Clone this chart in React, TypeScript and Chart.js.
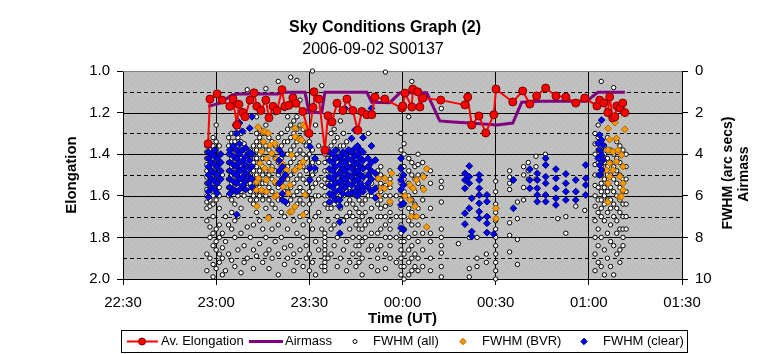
import React, { useEffect, useRef } from 'react';
import { Chart, registerables } from 'chart.js';

Chart.register(...registerables);

const FONT = 'Liberation Sans, Arial, sans-serif';

const chartTitle = 'Sky Conditions Graph (2)';
const chartSubtitle = '2006-09-02 S00137';
const xAxisTitle = 'Time (UT)';
const leftAxisTitle = 'Elongation';
const rightAxisTitles = ['FWHM (arc secs)', 'Airmass'];
const seriesNames = ['Av. Elongation', 'Airmass', 'FWHM (all)', 'FWHM (BVR)', 'FWHM (clear)'];

// x values are minutes after 22:30 UT
const timeLabels = ['22:30', '23:00', '23:30', '00:00', '00:30', '01:00', '01:30'];

const elongTimes = [27.4, 28.0, 30.3, 31.9, 34.4, 35.4, 36.7, 37.3, 38.6, 39.3, 40.9, 42.2, 43.1, 44.4, 46.0, 47.0, 48.3, 49.6, 51.2, 52.1, 53.4, 54.7, 55.7, 57.9, 59.9, 61.2, 61.5, 63.1, 65.0, 66.0, 67.3, 68.9, 70.8, 72.1, 74.0, 75.6, 76.9, 78.5, 80.1, 81.1, 84.3, 89.8, 90.1, 90.8, 93.0, 93.3, 94.9, 95.6, 96.6, 102.3, 110.1, 111.0, 112.3, 114.6, 116.8, 119.4, 120.1, 125.5, 128.7, 131.0, 133.2, 136.1, 139.4, 142.6, 145.8, 148.7, 152.6, 153.5, 154.8, 156.1, 156.7, 157.7, 158.4, 159.0, 160.0, 160.9, 161.6];
const elongValues = [1.35, 1.135, 1.11, 1.14, 1.17, 1.135, 1.26, 1.16, 1.2, 1.22, 1.14, 1.105, 1.17, 1.19, 1.14, 1.225, 1.17, 1.19, 1.09, 1.17, 1.165, 1.13, 1.155, 1.195, 1.3, 1.175, 1.1, 1.135, 1.38, 1.215, 1.245, 1.155, 1.19, 1.135, 1.19, 1.285, 1.195, 1.21, 1.21, 1.125, 1.135, 1.178, 1.168, 1.106, 1.173, 1.087, 1.1, 1.173, 1.13, 1.14, 1.163, 1.125, 1.26, 1.216, 1.298, 1.21, 1.087, 1.149, 1.096, 1.159, 1.12, 1.082, 1.12, 1.125, 1.154, 1.13, 1.168, 1.14, 1.154, 1.2, 1.125, 1.226, 1.22, 1.168, 1.178, 1.154, 1.2];

const airTimes = [27.4, 31.2, 35.1, 37.7, 49.9, 51.2, 58.6, 59.9, 64.0, 65.0, 78.5, 80.1, 85.9, 89.2, 97.8, 102.0, 106.2, 111.7, 120.4, 125.5, 128.4, 134.2, 149.3, 152.9, 161.6];
const airValues = [1.7, 1.55, 1.15, 1.1, 1.1, 1.02, 1.02, 2.0, 2.0, 1.02, 1.02, 1.5, 1.52, 1.05, 1.05, 2.4, 2.45, 2.5, 2.6, 2.5, 1.5, 1.45, 1.45, 1.02, 1.02];

// [minute, FWHM values at that minute]
const fwhmAll: [number, number[]][] = [
  [27, [3.6, 3.9, 4.2, 4.5, 4.8, 5.1, 5.4, 5.7, 6.0, 6.3, 6.6, 7.2, 8.8, 9.6]],
  [28, [3.5, 3.8, 4.1, 4.4, 4.7, 5.0, 5.3, 5.6, 5.9, 6.2, 6.5, 7.5, 8.0, 9.0]],
  [29, [3.2, 3.6, 4.0, 4.4, 4.8, 5.2, 5.6, 6.0, 6.4, 7.0, 7.8, 8.4, 9.3, 9.9]],
  [30, [2.6, 3.4, 3.8, 4.2, 4.6, 5.0, 5.4, 5.8, 6.2, 7.6, 8.2, 8.6, 9.5]],
  [31, [3.6, 4.0, 4.4, 4.8, 5.2, 5.6, 6.0, 6.6, 7.4, 8.0, 8.8, 9.2]],
  [32, [5.0, 7.8, 8.5, 9.0, 9.8]],
  [33, [7.0, 8.2, 9.6]],
  [34, [3.2, 3.6, 4.0, 4.4, 4.8, 5.2, 5.6, 6.0, 7.4, 8.8]],
  [35, [3.0, 3.4, 3.8, 4.2, 4.6, 5.0, 5.4, 5.8, 6.2, 6.8, 7.6, 9.1]],
  [36, [2.6, 3.0, 3.4, 3.8, 4.2, 4.6, 5.0, 5.4, 5.8, 6.4, 7.2, 8.0, 9.4]],
  [37, [2.4, 2.8, 3.2, 3.6, 4.0, 4.4, 4.8, 5.2, 5.6, 6.0, 7.0, 8.6]],
  [38, [3.0, 3.4, 3.8, 4.2, 4.6, 5.0, 5.4, 5.8, 6.6, 7.8, 9.7]],
  [39, [3.5, 4.0, 4.5, 5.0, 5.5, 6.0, 8.4, 9.2]],
  [40, [0.9, 4.8, 5.6, 7.5, 9.0]],
  [41, [3.8, 4.2, 4.6, 5.0, 5.4, 5.8, 6.2, 8.0]],
  [42, [3.6, 4.0, 4.4, 4.8, 5.2, 5.6, 6.0, 6.4, 7.4, 8.6, 9.5]],
  [43, [2.2, 3.0, 3.4, 3.8, 4.2, 4.6, 5.0, 5.4, 5.8, 6.2, 6.8, 8.9]],
  [44, [2.8, 3.2, 3.6, 4.0, 4.4, 4.8, 5.2, 5.6, 6.0, 7.2, 8.3]],
  [45, [3.0, 3.4, 3.8, 4.2, 4.6, 5.0, 5.4, 5.8, 6.2, 7.6, 9.2]],
  [46, [0.85, 2.6, 3.0, 3.6, 4.2, 4.8, 5.4, 6.0, 6.6, 8.0, 8.8]],
  [47, [3.2, 3.8, 4.4, 5.0, 5.6, 6.2, 7.0, 8.6, 9.5]],
  [48, [3.4, 4.0, 4.6, 5.2, 5.8, 6.4, 7.6, 9.0]],
  [49, [2.0, 3.6, 4.2, 4.8, 5.4, 6.0, 6.6, 8.2]],
  [50, [0.5, 3.2, 3.8, 4.4, 5.0, 5.6, 6.2, 7.4, 8.8, 9.8]],
  [51, [3.0, 3.6, 4.2, 4.8, 5.4, 6.0, 6.8, 8.0]],
  [52, [1.8, 3.4, 4.0, 4.6, 5.2, 5.8, 7.0, 8.5, 9.3]],
  [53, [2.2, 2.8, 3.4, 4.0, 4.6, 5.2, 5.8, 6.4, 7.6, 9.0]],
  [54, [0.3, 2.6, 3.2, 3.8, 4.4, 5.0, 5.6, 6.2, 6.8, 8.4]],
  [55, [1.2, 2.4, 3.0, 3.6, 4.2, 4.8, 5.4, 6.0, 7.2, 8.8, 9.6]],
  [56, [0.45, 2.2, 2.8, 3.4, 4.0, 4.6, 5.2, 5.8, 6.4, 7.8, 9.2]],
  [57, [1.4, 2.6, 3.2, 3.8, 4.4, 5.0, 5.6, 6.2, 7.0, 8.6]],
  [58, [2.8, 3.4, 4.0, 4.6, 5.2, 5.8, 6.4, 7.4, 8.0, 9.4]],
  [59, [3.0, 3.6, 4.2, 4.8, 5.4, 6.0, 6.8, 8.4, 9.0]],
  [60, [3.4, 4.0, 4.6, 5.2, 5.8, 6.4, 7.2, 8.8, 9.6]],
  [61, [0.0, 3.8, 4.4, 5.0, 5.6, 6.2, 7.6, 9.2]],
  [62, [2.6, 4.2, 4.8, 5.4, 6.0, 7.0, 8.2, 9.8]],
  [63, [3.6, 4.4, 5.2, 6.0, 6.8, 8.6]],
  [64, [0.7, 5.5, 7.6, 9.4]],
  [65, [4.0, 4.4, 4.8, 5.2, 5.6, 6.0, 6.4, 7.8, 8.0, 8.2, 8.4, 8.6, 8.8, 9.0, 9.2, 9.4, 9.6]],
  [66, [4.2, 4.8, 5.4, 6.0, 6.6, 7.2, 9.0]],
  [67, [3.0, 3.6, 4.2, 4.8, 5.4, 6.0, 6.6, 7.6, 8.8]],
  [68, [2.8, 3.4, 4.0, 4.6, 5.2, 5.8, 6.4, 7.4, 8.4]],
  [69, [3.2, 3.8, 4.4, 5.0, 5.6, 6.2, 7.0, 8.0, 9.4]],
  [70, [2.4, 3.6, 4.2, 4.8, 5.4, 6.0, 6.6, 7.8, 9.0]],
  [71, [3.0, 3.6, 4.2, 4.8, 5.4, 6.0, 7.2, 8.6]],
  [72, [3.4, 4.0, 4.6, 5.2, 5.8, 6.4, 7.0, 8.2, 9.6]],
  [73, [3.8, 4.4, 5.0, 5.6, 6.2, 6.8, 7.6, 9.2]],
  [74, [4.0, 4.6, 5.2, 5.8, 6.4, 7.0, 8.0, 8.8]],
  [75, [4.2, 4.8, 5.4, 6.0, 6.6, 7.4, 8.4, 9.4]],
  [76, [4.4, 5.0, 5.6, 6.2, 6.8, 7.2, 7.6, 8.0, 8.4, 8.8, 9.2]],
  [77, [4.6, 5.2, 5.8, 6.4, 7.0, 7.6, 8.2, 9.0, 9.8]],
  [78, [5.0, 5.6, 6.2, 6.8, 7.4, 8.0]],
  [79, [3.0, 5.4, 6.0, 7.2, 8.6]],
  [80, [4.8, 5.4, 6.0, 6.6, 7.2, 7.8, 8.4, 9.4]],
  [82, [4.8, 5.2, 5.6, 6.0, 6.4, 7.0, 7.8, 8.6, 9.0, 9.6]],
  [83, [4.6, 5.0, 5.4, 5.8, 6.2, 6.6, 7.0, 7.6, 8.4]],
  [84.5, [0.05, 5.5, 6.0, 6.5, 7.0, 7.4, 8.0, 8.8, 9.5]],
  [86, [4.8, 5.2, 5.6, 6.0, 6.4, 6.8, 7.2, 7.6, 8.0, 8.4, 9.0]],
  [88, [6.0, 7.0, 8.0, 9.2]],
  [89.5, [3.0, 3.8, 4.2, 4.6, 5.0, 5.4, 5.8, 6.2, 6.6, 7.0, 7.4, 7.8, 8.2, 8.6, 9.0, 9.4, 9.8]],
  [90.5, [3.5, 4.0, 4.6, 5.2, 5.8, 6.4, 7.0, 7.6, 8.2, 8.8, 9.4, 10.0]],
  [92, [2.2, 4.2, 4.8, 5.4, 6.0, 6.6, 7.2, 8.0, 8.6, 9.2, 9.8]],
  [93, [0.5, 4.4, 5.0, 5.6, 6.2, 6.8, 7.4, 8.4, 9.0, 9.6]],
  [94, [4.6, 5.2, 5.8, 6.4, 7.0, 7.8, 8.8, 9.4]],
  [95, [4.0, 4.5, 5.0, 5.4, 6.6, 7.4, 8.2, 9.0, 9.6]],
  [96.5, [4.4, 5.0, 5.6, 6.2, 7.0, 7.8, 8.6, 9.4]],
  [99, [4.8, 5.4, 6.6, 7.8, 8.2, 9.0, 9.6]],
  [102.5, [1.8, 5.3, 5.6, 6.3, 7.6, 8.0, 8.4, 8.75, 9.4, 9.9]],
  [108, [8.3]],
  [111.5, [8.0, 9.5, 9.9]],
  [114, [8.0, 9.0, 9.4]],
  [117, [8.8, 9.2]],
  [120, [5.3, 5.8, 6.4, 6.8, 7.2, 7.6, 8.0, 8.4, 8.8, 9.2, 9.6, 10.0]],
  [124.5, [4.8, 5.1, 5.4, 5.7, 7.3, 7.9, 8.7]],
  [127, [6.3, 7.1, 8.1, 9.3]],
  [129, [4.6, 5.0, 5.6, 6.2]],
  [130.5, [4.4, 4.8, 5.2]],
  [133, [4.1, 4.6, 5.2]],
  [136, [4.0, 4.2]],
  [140, [7.1]],
  [142.6, [7.0, 7.8]],
  [145.8, [6.5]],
  [148.7, [6.7]],
  [152, [3.0, 3.5, 4.0, 4.5, 5.0, 5.5, 6.0, 6.5, 7.2, 8.0, 8.8, 9.6]],
  [153, [2.6, 3.2, 3.8, 4.4, 5.0, 5.6, 6.2, 6.8, 7.6, 8.4, 9.2]],
  [154, [0.5, 3.4, 3.8, 4.2, 4.6, 5.0, 5.4, 5.8, 6.2, 6.6, 7.0, 8.0, 9.4]],
  [155, [3.6, 4.0, 4.4, 4.8, 5.2, 5.6, 6.0, 6.4, 7.2, 8.6, 9.8]],
  [156, [3.2, 4.2, 4.6, 5.0, 5.4, 5.8, 6.2, 6.8, 7.8, 9.0]],
  [157, [3.8, 4.4, 5.0, 5.6, 6.2, 6.6, 7.4, 8.2, 9.4]],
  [158, [0.8, 4.0, 4.6, 5.2, 5.8, 6.4, 7.0, 8.4, 9.8]],
  [159, [3.4, 4.2, 4.8, 5.4, 6.0, 6.6, 7.2, 7.8, 8.8]],
  [160, [3.6, 4.4, 5.0, 5.6, 6.2, 6.8, 7.6, 8.6, 9.2]],
  [161, [3.8, 4.6, 5.2, 5.8, 6.4, 7.0, 7.6, 8.0, 8.4]],
  [162, [4.0, 4.6, 5.2, 5.8, 6.4, 7.0, 7.6]],
];

const fwhmBVR: [number, number[]][] = [
  [43.0, [5.32, 5.72]], [43.1, [6.5]], [43.5, [2.7]], [43.6, [5.16]], [44.1, [4.44]], [44.6, [3.88, 5.72]],
  [45.0, [2.9]], [45.2, [3.4]], [45.7, [2.92, 4.68]], [46.2, [4.2, 5.24, 5.8]], [46.8, [3.0, 7.08]],
  [47.3, [3.56]], [47.9, [3.96, 4.76]], [48.9, [3.48, 5.32, 6.04]], [49.5, [4.25]], [49.6, [5.96]],
  [50.0, [3.8]], [51.1, [4.44]], [51.6, [5.56]], [52.1, [5.11]], [52.7, [4.76]], [53.2, [5.88]],
  [53.7, [6.78]], [53.8, [5.48]], [54.3, [4.04, 6.76]], [55.4, [2.75, 3.16, 4.76, 6.52]], [56.8, [3.3]],
  [57.0, [4.6]], [57.5, [3.32]], [58.0, [2.6, 4.36, 6.92]], [58.6, [2.68, 5.96]],
  [82.2, [5.16, 6.04]], [82.7, [5.64]], [84.3, [5.16, 5.64]], [85.9, [5.4, 6.28]], [86.5, [4.92]],
  [90.8, [6.0]], [92.4, [5.48, 6.2]], [92.9, [7.0]], [93.4, [5.64]], [94.0, [6.52]], [94.5, [5.24, 7.0]],
  [96.8, [5.1, 5.7]], [97.8, [4.7, 7.5]], [120.1, [6.6, 7.1]],
  [154.6, [4.28]], [155.7, [4.76]], [156.1, [6.3]], [156.2, [2.76, 3.8, 5.4]], [156.7, [3.3, 4.44, 5.08]],
  [157.8, [3.88, 4.76]], [158.4, [2.48]], [158.9, [3.24, 4.36]], [159.4, [3.8]], [160.0, [5.08, 6.06]],
  [160.5, [4.04, 6.04]], [161.0, [4.6, 5.4, 5.72]], [161.6, [2.8]],
];

const fwhmClear: [number, number[]][] = [
  [27.5, [3.9, 4.2, 4.6, 5.0, 5.4, 5.8, 6.06]],
  [28.5, [4.0, 4.4, 4.8, 5.2, 5.6]],
  [29.5, [3.8, 4.1, 4.5, 4.9, 5.3, 5.7]],
  [30.3, [4.2, 4.6, 5.0, 5.4, 5.87]],
  [31.5, [4.0, 4.4, 4.8, 5.2]],
  [34.4, [3.8, 4.0, 4.4, 4.8, 5.2, 5.6, 5.9]],
  [35.5, [3.6, 4.1, 4.5, 4.9, 5.3, 5.7]],
  [36.6, [3.0, 3.8, 4.2, 4.6, 5.0, 5.4, 5.8, 6.9]],
  [37.5, [2.5, 3.5, 4.0, 4.4, 4.8, 5.2, 5.7]],
  [38.5, [1.95, 2.9, 3.8, 4.3, 4.7, 5.1, 5.5]],
  [39.5, [3.7, 4.1, 4.5, 4.9, 5.3, 5.7]],
  [40.8, [2.75, 3.9, 4.3, 4.7, 5.1]],
  [41.5, [2.2, 4.0, 4.6, 5.2, 5.58]],
  [50.3, [3.8, 4.3, 4.8, 5.4]],
  [51.3, [4.0, 4.6, 5.2, 5.9, 6.2]],
  [52.3, [5.0, 6.3]],
  [60.2, [3.64, 4.67, 5.24]],
  [61.8, [4.2, 4.67]],
  [66.5, [3.9, 4.3, 4.7, 5.1, 5.5, 5.9, 6.3]],
  [67.5, [4.0, 4.4, 4.8, 5.2, 5.6, 6.0]],
  [68.5, [3.8, 4.2, 4.6, 5.0, 5.4, 5.8, 6.2]],
  [69.8, [4.1, 4.5, 4.9, 5.3, 5.7, 6.2, 6.5, 7.26, 7.8]],
  [70.8, [3.9, 4.3, 4.7, 5.1, 5.5, 5.9]],
  [71.5, [1.8, 4.0, 4.4, 4.8, 5.2, 5.6]],
  [72.5, [3.8, 4.2, 4.6, 5.0, 5.4, 5.9]],
  [73.6, [3.24, 3.9, 4.3, 4.7, 5.1, 5.5, 5.87]],
  [74.7, [2.84, 3.72, 4.1, 4.5, 4.9, 5.3, 5.8]],
  [75.5, [3.6, 4.0, 4.4, 4.8, 5.2, 5.6, 6.0]],
  [76.5, [3.8, 4.2, 4.6, 5.0, 5.4, 5.8]],
  [77.3, [3.2, 3.9, 4.3, 4.7, 5.1, 5.6, 5.8]],
  [78.9, [4.2, 4.6, 5.0, 5.4, 5.6]],
  [80.0, [1.8, 3.6, 4.4, 4.8, 5.2, 5.8]],
  [81.3, [4.28, 4.92, 5.64, 6.1]],
  [89.5, [4.2, 4.68, 5.24, 5.7, 6.44, 7.55]],
  [90.3, [5.0, 5.48, 6.36, 7.64]],
  [110.1, [4.92, 5.24, 5.64, 6.84, 7.36]],
  [111.5, [4.57, 5.08, 5.4, 6.6]],
  [112.3, [6.12, 7.72, 7.96]],
  [114.7, [5.0, 5.24, 5.64, 5.96, 6.36, 6.76, 7.08]],
  [117.2, [5.96, 6.28, 7.0, 7.32, 7.77]],
  [119.4, [7.84]],
  [125.7, [5.24, 6.6]],
  [131.0, [4.72, 5.24, 5.64]],
  [133.4, [4.92, 5.24, 5.64, 5.96, 6.28]],
  [136.1, [4.2, 4.52, 5.08, 5.4, 5.96, 6.28]],
  [139.4, [4.72, 5.16, 5.64, 6.12, 6.44]],
  [142.6, [4.95, 5.4, 5.8, 6.2]],
  [145.8, [5.24, 5.8, 6.2]],
  [149.0, [4.52, 5.16, 5.48, 5.96]],
  [153.0, [3.48, 4.2]],
  [153.5, [3.08, 3.8, 4.52, 5.0]],
  [154.1, [2.36, 3.32, 4.04, 4.76]],
  [154.6, [3.56, 4.28]],
];

const toPoints = (cols: [number, number[]][]) =>
  cols.flatMap(([x, ys]) => ys.map((y) => ({ x, y })));
const pairPoints = (xs: number[], ys: number[]) => xs.map((x, i) => ({ x, y: ys[i] }));

const RED = '#FF0000';
const RED_EDGE = '#7A0000';
const PURPLE = '#800080';
const ORANGE = '#FF9900';
const ORANGE_EDGE = '#A86400';
const BLUE = '#0000FF';
const BLUE_EDGE = '#00006E';

function diamond(ctx: CanvasRenderingContext2D, x: number, y: number, r: number) {
  ctx.beginPath();
  ctx.moveTo(x, y - r);
  ctx.lineTo(x + r, y);
  ctx.lineTo(x, y + r);
  ctx.lineTo(x - r, y);
  ctx.closePath();
}

const decorPlugin = {
  id: 'decor',
  beforeDraw(chart: any) {
    const { ctx, chartArea: a } = chart;
    ctx.save();
    ctx.fillStyle = '#FFFFFF';
    ctx.fillRect(0, 0, chart.width, chart.height);
    const tile = document.createElement('canvas');
    tile.width = 6;
    tile.height = 6;
    const t = tile.getContext('2d')!;
    t.fillStyle = '#C0C0C0';
    t.fillRect(0, 0, 6, 6);
    t.fillStyle = '#A4BCA4';
    t.fillRect(0, 0, 1, 1);
    t.fillRect(3, 3, 1, 1);
    const pat = ctx.createPattern(tile, 'repeat');
    ctx.fillStyle = pat || '#C0C0C0';
    ctx.fillRect(a.left, a.top, a.right - a.left, a.bottom - a.top);
    ctx.restore();
  },
  beforeDatasetsDraw(chart: any) {
    const { ctx, chartArea: a } = chart;
    const y2 = chart.scales.y2;
    ctx.save();
    ctx.strokeStyle = '#000000';
    ctx.lineWidth = 1;
    for (let k = 1; k <= 9; k++) {
      const p = Math.round(y2.getPixelForValue(k)) + 0.5;
      ctx.setLineDash(k % 2 === 1 ? [4, 3] : []);
      ctx.beginPath();
      ctx.moveTo(a.left, p);
      ctx.lineTo(a.right, p);
      ctx.stroke();
    }
    ctx.setLineDash([]);
    ctx.strokeStyle = '#808080';
    ctx.beginPath();
    ctx.moveTo(a.left, Math.round(a.top) + 0.5);
    ctx.lineTo(a.right, Math.round(a.top) + 0.5);
    ctx.stroke();
    ctx.restore();
  },
  afterDraw(chart: any) {
    const { ctx, chartArea: a } = chart;
    ctx.save();
    ctx.fillStyle = '#000000';
    // titles
    ctx.textAlign = 'center';
    ctx.textBaseline = 'alphabetic';
    ctx.font = `bold 16px ${FONT}`;
    ctx.fillText(chartTitle, 385, 31.5);
    ctx.font = `16px ${FONT}`;
    ctx.fillText(chartSubtitle, 373, 54);
    // x axis title
    ctx.font = `bold 15px ${FONT}`;
    ctx.fillText(xAxisTitle, (a.left + a.right) / 2, 322.5);
    // left axis title
    const cy = (a.top + a.bottom) / 2;
    ctx.save();
    ctx.translate(76, cy);
    ctx.rotate(-Math.PI / 2);
    ctx.fillText(leftAxisTitle, 0, 0);
    ctx.restore();
    // right axis titles
    ctx.font = `bold 14px ${FONT}`;
    ctx.save();
    ctx.translate(732, cy - 2);
    ctx.rotate(-Math.PI / 2);
    ctx.fillText(rightAxisTitles[0], 0, 0);
    ctx.restore();
    ctx.save();
    ctx.translate(747.5, cy - 1);
    ctx.rotate(-Math.PI / 2);
    ctx.fillText(rightAxisTitles[1], 0, 0);
    ctx.restore();

    // legend
    const ly = 341.5;
    ctx.strokeStyle = '#000000';
    ctx.lineWidth = 1;
    ctx.strokeRect(121.5, 330.5, 566, 22);
    ctx.font = `13px ${FONT}`;
    ctx.textAlign = 'left';
    ctx.textBaseline = 'middle';
    // Av. Elongation
    ctx.strokeStyle = RED;
    ctx.lineWidth = 2;
    ctx.beginPath();
    ctx.moveTo(127, ly);
    ctx.lineTo(158, ly);
    ctx.stroke();
    ctx.beginPath();
    ctx.arc(142, ly, 3.5, 0, Math.PI * 2);
    ctx.fillStyle = RED;
    ctx.fill();
    ctx.lineWidth = 1;
    ctx.strokeStyle = RED_EDGE;
    ctx.stroke();
    ctx.fillStyle = '#000000';
    ctx.fillText(seriesNames[0], 161, ly);
    // Airmass
    ctx.strokeStyle = PURPLE;
    ctx.lineWidth = 3;
    ctx.beginPath();
    ctx.moveTo(249, ly);
    ctx.lineTo(283, ly);
    ctx.stroke();
    ctx.fillText(seriesNames[1], 285, ly);
    // FWHM (all)
    ctx.beginPath();
    ctx.arc(355, ly, 2, 0, Math.PI * 2);
    ctx.fillStyle = '#FFFFFF';
    ctx.fill();
    ctx.lineWidth = 1;
    ctx.strokeStyle = '#000000';
    ctx.stroke();
    ctx.fillStyle = '#000000';
    ctx.fillText(seriesNames[2], 373, ly);
    // FWHM (BVR)
    diamond(ctx, 463, ly, 3.2);
    ctx.fillStyle = ORANGE;
    ctx.fill();
    ctx.strokeStyle = ORANGE_EDGE;
    ctx.stroke();
    ctx.fillStyle = '#000000';
    ctx.fillText(seriesNames[3], 482, ly);
    // FWHM (clear)
    diamond(ctx, 584, ly, 3.2);
    ctx.fillStyle = BLUE;
    ctx.fill();
    ctx.strokeStyle = BLUE_EDGE;
    ctx.stroke();
    ctx.fillStyle = '#000000';
    ctx.fillText(seriesNames[4], 603, ly);
    ctx.restore();
  },
};

export default function App() {
  const canvasRef = useRef<HTMLCanvasElement | null>(null);

  useEffect(() => {
    const canvas = canvasRef.current;
    if (!canvas) return;
    const tickFont = { family: FONT, size: 15 };
    const chart = new Chart(canvas, {
      type: 'scatter',
      data: {
        datasets: [
          {
            label: seriesNames[0],
            data: pairPoints(elongTimes, elongValues),
            yAxisID: 'y',
            showLine: true,
            tension: 0,
            borderColor: RED,
            borderWidth: 2,
            pointRadius: 4,
            pointBackgroundColor: RED,
            pointBorderColor: RED_EDGE,
            pointBorderWidth: 1,
            order: 0,
          },
          {
            label: seriesNames[1],
            data: pairPoints(airTimes, airValues),
            yAxisID: 'y2',
            showLine: true,
            tension: 0,
            borderColor: PURPLE,
            borderWidth: 3,
            pointRadius: 0,
            order: 1,
          },
          {
            label: seriesNames[2],
            data: toPoints(fwhmAll),
            yAxisID: 'y2',
            pointRadius: 2.2,
            pointBackgroundColor: '#FFFFFF',
            pointBorderColor: '#000000',
            pointBorderWidth: 1,
            clip: false,
            order: 4,
          },
          {
            label: seriesNames[3],
            data: toPoints(fwhmBVR),
            yAxisID: 'y2',
            pointStyle: 'rectRot',
            pointRadius: 3.4,
            pointBackgroundColor: ORANGE,
            pointBorderColor: ORANGE_EDGE,
            pointBorderWidth: 1,
            clip: false,
            order: 3,
          },
          {
            label: seriesNames[4],
            data: toPoints(fwhmClear),
            yAxisID: 'y2',
            pointStyle: 'rectRot',
            pointRadius: 3.4,
            pointBackgroundColor: BLUE,
            pointBorderColor: BLUE_EDGE,
            pointBorderWidth: 1,
            clip: false,
            order: 2,
          },
        ] as any,
      },
      options: {
        animation: false,
        responsive: false,
        maintainAspectRatio: false,
        events: [],
        layout: { padding: { top: 71, left: 0, right: 0, bottom: 0 } },
        plugins: {
          legend: { display: false },
          tooltip: { enabled: false },
          title: { display: false },
        },
        scales: {
          x: {
            type: 'linear',
            position: 'bottom',
            min: 0,
            max: 180,
            afterFit: (s: any) => {
              s.height = 75;
            },
            ticks: {
              stepSize: 30,
              autoSkip: false,
              maxRotation: 0,
              padding: 9,
              color: '#000000',
              font: tickFont,
              callback: (v: any) => timeLabels[Math.round(Number(v) / 30)] ?? '',
            },
            grid: { color: '#000000', lineWidth: 1, tickLength: 6, tickColor: '#000000' },
            border: { color: '#000000', width: 1 },
          },
          y: {
            position: 'left',
            min: 1,
            max: 2,
            reverse: true,
            afterFit: (s: any) => {
              s.width = 123;
            },
            ticks: {
              stepSize: 0.2,
              padding: 7,
              color: '#000000',
              font: tickFont,
              callback: (v: any) => Number(v).toFixed(1),
            },
            grid: { drawOnChartArea: false, tickLength: 6, tickColor: '#000000' },
            border: { color: '#000000', width: 1 },
          },
          y2: {
            position: 'right',
            min: 0,
            max: 10,
            reverse: true,
            afterFit: (s: any) => {
              s.width = 79;
            },
            ticks: {
              stepSize: 1,
              padding: 7,
              color: '#000000',
              font: tickFont,
              callback: (v: any) => String(Math.round(Number(v))),
            },
            grid: { drawOnChartArea: false, tickLength: 6, tickColor: '#000000' },
            border: { color: '#000000', width: 1 },
          },
        },
      } as any,
      plugins: [decorPlugin],
    });
    return () => chart.destroy();
  }, []);

  return (
    <div style={{ position: 'absolute', left: 0, top: 0, width: 761, height: 354 }}>
      <canvas ref={canvasRef} width={761} height={354} style={{ width: 761, height: 354, display: 'block' }} />
    </div>
  );
}
